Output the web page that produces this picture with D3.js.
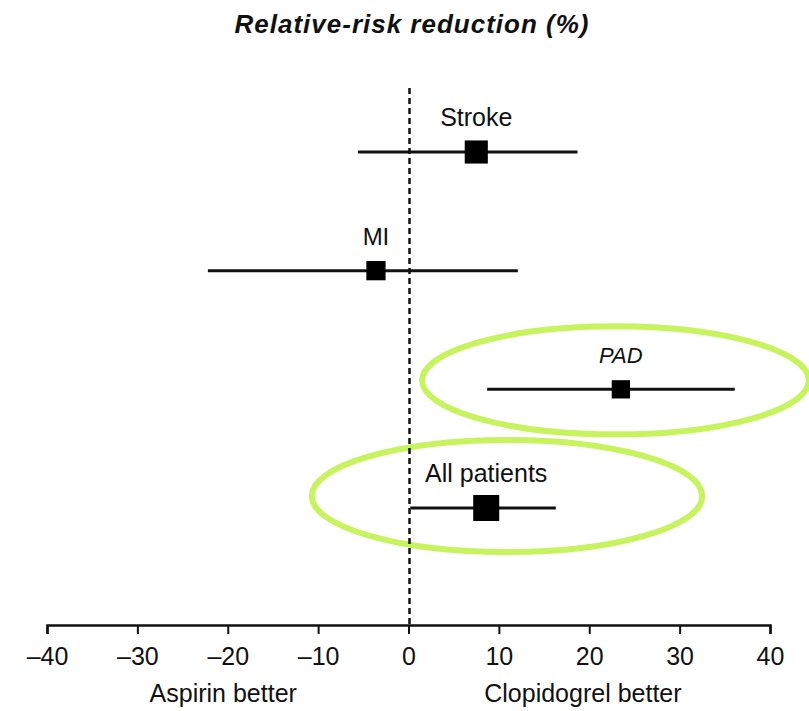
<!DOCTYPE html>
<html>
<head>
<meta charset="utf-8">
<script src="https://cdn.jsdelivr.net/npm/d3@7"></script>
<style>
  body { margin: 0; background: #fff; }
  text { font-family: "Liberation Sans", Arial, sans-serif; fill: #111; }
</style>
</head>
<body>
<div id="chart"></div>
<script>
// subgroups and their relative-risk reduction (%) with 95% CI
const groups = ["Stroke", "MI", "PAD", "All patients"];
const estimate = [7.5, -3.6, 23.5, 8.6];
const lower = [-5.6, -22.2, 8.7, 0.2];
const upper = [18.7, 12.1, 36.1, 16.3];
const weight = [24, 20, 19, 27]; // relative box weight
const ticks = [-40, -30, -20, -10, 0, 10, 20, 30, 40];

const width = 809, height = 711;

const svg = d3
  .select("#chart")
  .append("svg")
  .attr("width", width)
  .attr("height", height);

const x = d3.scaleLinear().domain([-40, 40]).range([47, 770]);
const y = d3.scalePoint().domain(groups).range([152, 508]);
const box = d3.scaleLinear().domain([0, 27]).range([0, 26]);
const axisY = 625;

const data = groups.map((g, i) => ({
  name: g,
  est: estimate[i],
  lo: lower[i],
  hi: upper[i],
  w: weight[i],
}));

// title
svg
  .append("text")
  .attr("x", 412)
  .attr("y", 33)
  .attr("text-anchor", "middle")
  .style("font-size", "26px")
  .style("font-weight", "bold")
  .style("font-style", "italic")
  .style("letter-spacing", "1px")
  .text("Relative-risk reduction (%)");

// green highlight ellipses
const marks = [
  { row: "PAD", cx: 22.9, rx: 21.4, dy: -9, ry: 54 },
  { row: "All patients", cx: 10.9, rx: 21.6, dy: -12, ry: 56 },
];
svg
  .selectAll("ellipse")
  .data(marks)
  .join("ellipse")
  .attr("cx", (d) => x(d.cx))
  .attr("cy", (d) => y(d.row) + d.dy)
  .attr("rx", (d) => x(d.rx) - x(0))
  .attr("ry", (d) => d.ry)
  .attr("fill", "none")
  .attr("stroke", "#c6f35e")
  .attr("stroke-width", 6);

// no-effect line
svg
  .append("line")
  .attr("x1", x(0) + 1)
  .attr("x2", x(0) + 1)
  .attr("y1", 88)
  .attr("y2", axisY)
  .attr("stroke", "#111")
  .attr("stroke-width", 2.5)
  .attr("stroke-dasharray", "6,4");

// x axis
const axis = svg
  .append("g")
  .attr("transform", `translate(0,${axisY})`)
  .call(
    d3
      .axisBottom(x)
      .tickValues(ticks)
      .tickSize(9)
      .tickPadding(13)
      .tickFormat((d) => (d < 0 ? "\u2013" + Math.abs(d) : d))
  );
axis.select(".domain").attr("stroke", "#111").attr("stroke-width", 2.5);
axis.selectAll(".tick line").attr("stroke", "#111").attr("stroke-width", 2);
axis
  .selectAll(".tick text")
  .style("font-size", "25px")
  .style("font-family", "'Liberation Sans', Arial, sans-serif")
  .attr("fill", "#111");

svg
  .append("text")
  .attr("x", x(-20.5))
  .attr("y", 702)
  .attr("text-anchor", "middle")
  .style("font-size", "25px")
  .text("Aspirin better");
svg
  .append("text")
  .attr("x", x(19.3))
  .attr("y", 702)
  .attr("text-anchor", "middle")
  .style("font-size", "25px")
  .text("Clopidogrel better");

// confidence intervals
svg
  .selectAll(".ci")
  .data(data)
  .join("line")
  .attr("class", "ci")
  .attr("x1", (d) => x(d.lo))
  .attr("x2", (d) => x(d.hi))
  .attr("y1", (d) => y(d.name))
  .attr("y2", (d) => y(d.name))
  .attr("stroke", "#111")
  .attr("stroke-width", 3);

// point estimates
svg
  .selectAll(".est")
  .data(data)
  .join("rect")
  .attr("class", "est")
  .attr("x", (d) => x(d.est) - box(d.w) / 2)
  .attr("y", (d) => y(d.name) - box(d.w) / 2)
  .attr("width", (d) => box(d.w))
  .attr("height", (d) => box(d.w))
  .attr("fill", "#000");

// subgroup labels
svg
  .selectAll(".lab")
  .data(data)
  .join("text")
  .attr("class", "lab")
  .attr("x", (d) => x(d.est))
  .attr("y", (d) => y(d.name) - 26)
  .attr("text-anchor", "middle")
  .style("font-size", (d) => (d.name === "PAD" ? "22px" : d.name === "MI" ? "24px" : "25px"))
  .style("font-style", (d) => (d.name === "PAD" ? "italic" : "normal"))
  .text((d) => d.name);
</script>
</body>
</html>
